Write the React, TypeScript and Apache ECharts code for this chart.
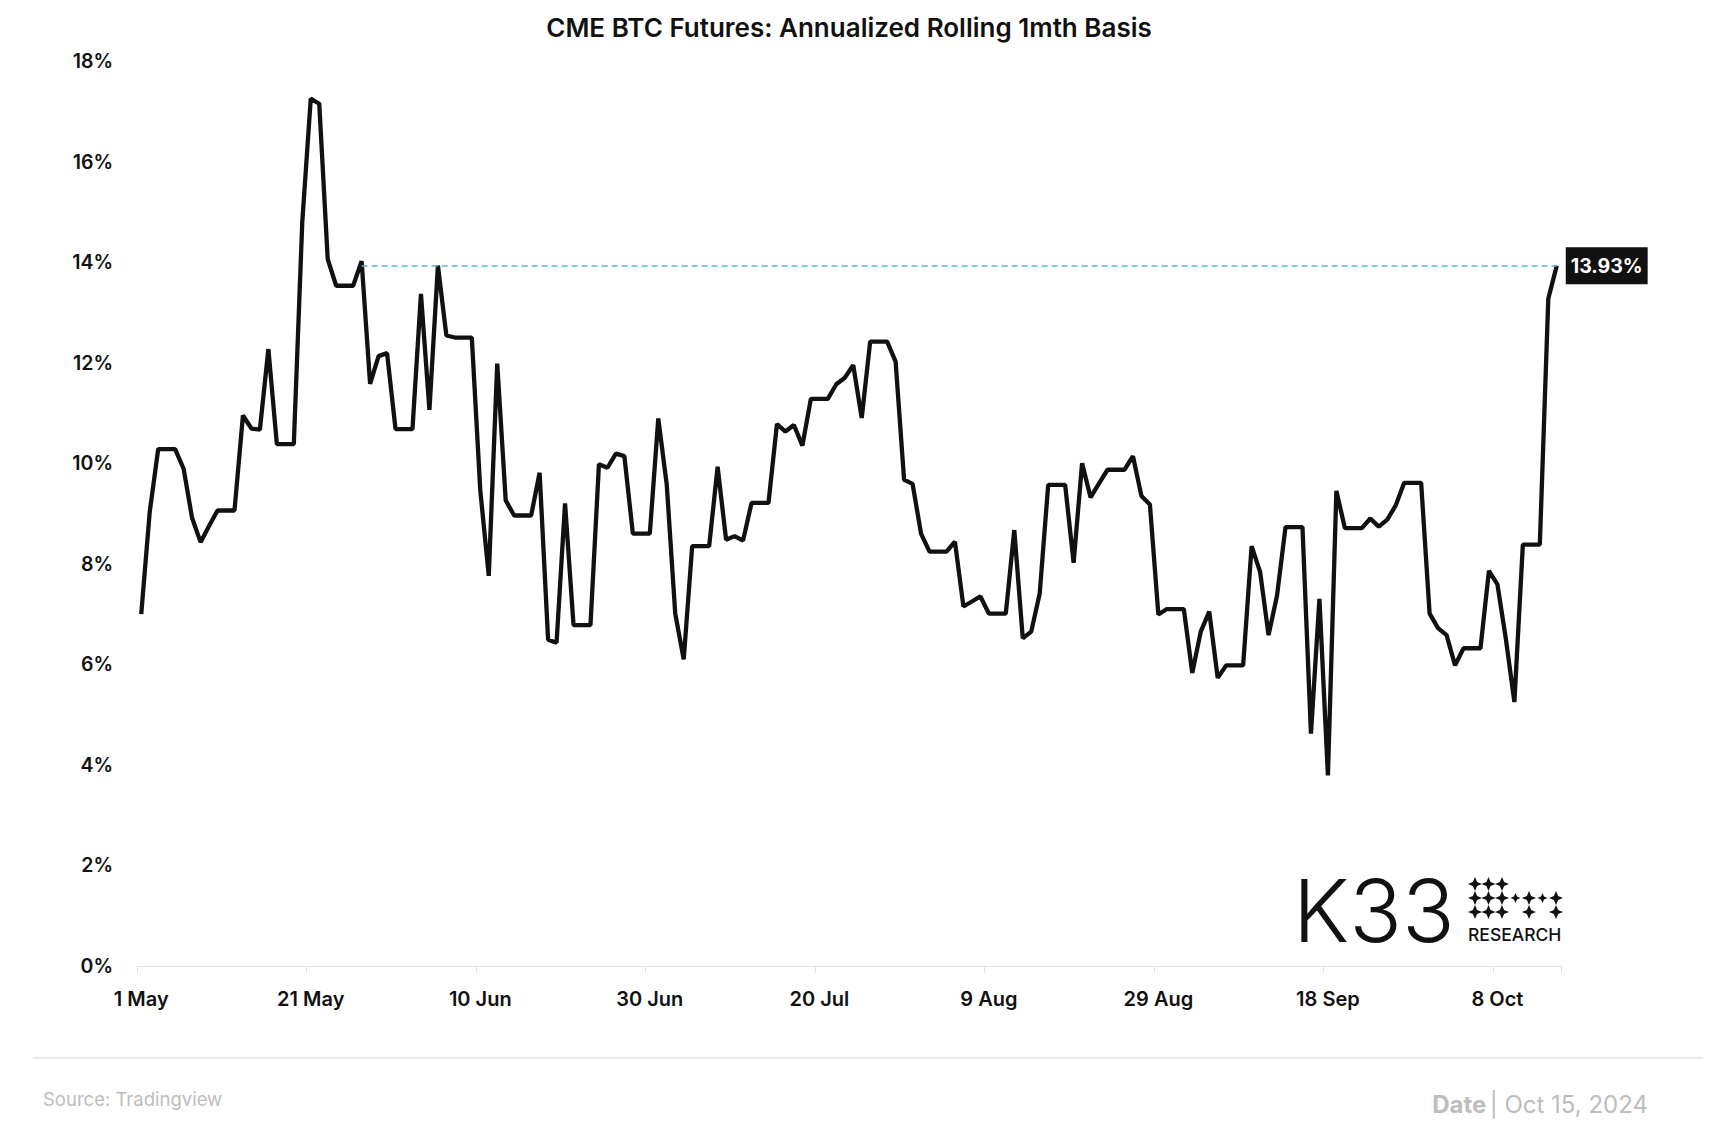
import React, { useEffect, useRef } from "react";
import * as echarts from "echarts";

// Annualized rolling 1-month basis (%), daily from 1 May 2024 to 15 Oct 2024 (weekends carry Friday's value)
const basis: number[] = [
  7.0, 9.03, 10.28, 10.28, 10.28, 9.89, 8.91, 8.43, 8.75, 9.06,
  9.06, 9.06, 10.95, 10.69, 10.67, 12.27, 10.38, 10.38, 10.38, 14.8,
  17.25, 17.15, 14.06, 13.53, 13.53, 13.53, 14.02, 11.58, 12.13, 12.19,
  10.68, 10.68, 10.68, 13.37, 11.06, 13.93, 12.54, 12.5, 12.5, 12.5,
  9.46, 7.76, 11.98, 9.26, 8.96, 8.96, 8.96, 9.81, 6.49, 6.43,
  9.2, 6.78, 6.78, 6.78, 9.98, 9.91, 10.19, 10.14, 8.6, 8.6,
  8.6, 10.89, 9.57, 7.01, 6.1, 8.35, 8.35, 8.35, 9.93, 8.48,
  8.55, 8.46, 9.21, 9.21, 9.21, 10.78, 10.63, 10.76, 10.35, 11.28,
  11.28, 11.28, 11.57, 11.7, 11.95, 10.9, 12.42, 12.42, 12.42, 12.02,
  9.67, 9.59, 8.6, 8.24, 8.24, 8.24, 8.44, 7.15, 7.25, 7.35,
  7.01, 7.01, 7.01, 8.67, 6.52, 6.65, 7.41, 9.57, 9.57, 9.57,
  8.02, 10.0, 9.32, 9.6, 9.87, 9.87, 9.87, 10.14, 9.35, 9.18,
  6.99, 7.1, 7.1, 7.1, 5.83, 6.65, 7.05, 5.73, 5.98, 5.98,
  5.98, 8.35, 7.84, 6.58, 7.37, 8.73, 8.73, 8.73, 4.62, 7.3,
  3.79, 9.45, 8.71, 8.71, 8.71, 8.9, 8.74, 8.88, 9.16, 9.61,
  9.61, 9.61, 7.01, 6.72, 6.58, 5.98, 6.32, 6.32, 6.32, 7.86,
  7.59, 6.5, 5.25, 8.38, 8.38, 8.38, 13.27, 13.93,
];

const MONTHS = ["Jan", "Feb", "Mar", "Apr", "May", "Jun", "Jul", "Aug", "Sep", "Oct", "Nov", "Dec"];
const START_UTC = Date.UTC(2024, 4, 1);
const categories: string[] = basis.map((_, i) => {
  const d = new Date(START_UTC + i * 86400000);
  return `${d.getUTCDate()} ${MONTHS[d.getUTCMonth()]}`;
});

const yTicks = [0, 2, 4, 6, 8, 10, 12, 14, 16, 18];
const refStartIndex = 26; // 27 May, start of dashed reference line
const lastValue = basis[basis.length - 1];

const TITLE = "CME BTC Futures: Annualized Rolling 1mth Basis";
const SOURCE = "Source: Tradingview";
const DATE_TEXT = "Oct 15, 2024";

const FONT = "Inter, 'Noto Sans', sans-serif";

function starPoints(cx: number, cy: number, r: number): number[][] {
  const k = r * 0.3;
  return [
    [cx, cy - r],
    [cx + k, cy - k],
    [cx + r, cy],
    [cx + k, cy + k],
    [cx, cy + r],
    [cx - k, cy + k],
    [cx - r, cy],
    [cx - k, cy - k],
  ];
}

export default function App() {
  const ref = useRef<HTMLDivElement>(null);

  useEffect(() => {
    if (!ref.current) return;
    const chart = echarts.init(ref.current, undefined, { renderer: "svg" });

    const colX = [1475, 1488.5, 1502, 1515.5, 1529, 1542.5, 1556];
    const rowY = [884, 898, 912];
    const stars: any[] = [];
    const layout: [number, number, number][] = [
      [0, 0, 7], [0, 1, 7], [0, 2, 7],
      [1, 0, 7], [1, 1, 7], [1, 2, 7], [1, 3, 5], [1, 4, 7], [1, 5, 5], [1, 6, 7],
      [2, 0, 7], [2, 1, 7], [2, 2, 7], [2, 4, 7], [2, 6, 7],
    ];
    layout.forEach(([r, c, rad]) => {
      stars.push({
        type: "polygon",
        shape: { points: starPoints(colX[c], rowY[r], rad) },
        style: { fill: "#111" },
        silent: true,
      });
    });

    chart.setOption({
      animation: false,
      backgroundColor: "#ffffff",
      grid: { left: 137, right: 156, top: 61, bottom: 166, containLabel: false },
      xAxis: {
        type: "category",
        data: categories,
        boundaryGap: true,
        axisLine: { show: true, lineStyle: { color: "#e2e2e2", width: 1 } },
        axisTick: { show: true, interval: 19, length: 7, lineStyle: { color: "#e2e2e2" } },
        axisLabel: {
          interval: 19,
          color: "#111",
          fontFamily: FONT,
          fontWeight: 600,
          fontSize: 20,
          margin: 23,
        },
        splitLine: { show: false },
      },
      yAxis: {
        type: "value",
        min: yTicks[0],
        max: yTicks[yTicks.length - 1],
        interval: 2,
        axisLine: { show: false },
        axisTick: { show: false },
        splitLine: { show: false },
        axisLabel: {
          formatter: "{value}%",
          color: "#111",
          fontFamily: FONT,
          fontWeight: 600,
          fontSize: 19.5,
          margin: 24,
        },
      },
      series: [
        {
          type: "line",
          data: basis,
          showSymbol: false,
          symbol: "none",
          lineStyle: { color: "#111", width: 4.3 },
          endLabel: {
            show: true,
            formatter: (p: any) => `${Number(p.value).toFixed(2)}%`,
            color: "#fff",
            backgroundColor: "#111",
            fontFamily: FONT,
            fontWeight: 700,
            fontSize: 19.5,
            padding: [9, 5, 8, 5],
            distance: 9,
          },
          markLine: {
            silent: true,
            symbol: ["none", "none"],
            label: { show: false },
            lineStyle: { color: "#5db6d3", type: [6, 4], width: 1.5 },
            data: [
              [
                { coord: [categories[refStartIndex], lastValue] },
                { coord: [categories[categories.length - 1], lastValue] },
              ],
            ],
          },
        },
      ],
      graphic: [
        {
          type: "text",
          x: 849,
          y: 27,
          style: {
            text: TITLE,
            fill: "#111",
            font: `600 26px ${FONT}`,
            textAlign: "center",
            textVerticalAlign: "middle",
          },
        },
        {
          type: "text",
          x: 1293,
          y: 910,
          style: {
            text: "K33",
            fill: "#111",
            font: `300 87px ${FONT}`,
            textAlign: "left",
            textVerticalAlign: "middle",
          },
        },
        ...stars,
        {
          type: "text",
          x: 1468,
          y: 934.5,
          style: {
            text: "RESEARCH",
            fill: "#111",
            font: `500 17.5px ${FONT}`,
            textAlign: "left",
            textVerticalAlign: "middle",
          },
        },
        {
          type: "line",
          shape: { x1: 33, y1: 1058, x2: 1703, y2: 1058 },
          style: { stroke: "#d4d4d4", lineWidth: 1 },
        },
        {
          type: "text",
          x: 43,
          y: 1099,
          style: {
            text: SOURCE,
            fill: "#bdbdbd",
            font: `400 18.5px ${FONT}`,
            textAlign: "left",
            textVerticalAlign: "middle",
          },
        },
        {
          type: "text",
          x: 1648,
          y: 1104,
          style: {
            text: `{b|Date} {r|| ${DATE_TEXT}}`,
            textAlign: "right",
            textVerticalAlign: "middle",
            rich: {
              b: { fill: "#bdbdbd", font: `700 24px ${FONT}` },
              r: { fill: "#bdbdbd", font: `400 24px ${FONT}` },
            },
          },
        },
      ],
    });

    return () => chart.dispose();
  }, []);

  return (
    <div
      ref={ref}
      style={{ position: "absolute", left: 0, top: 0, width: 1717, height: 1132, background: "#fff" }}
    />
  );
}
